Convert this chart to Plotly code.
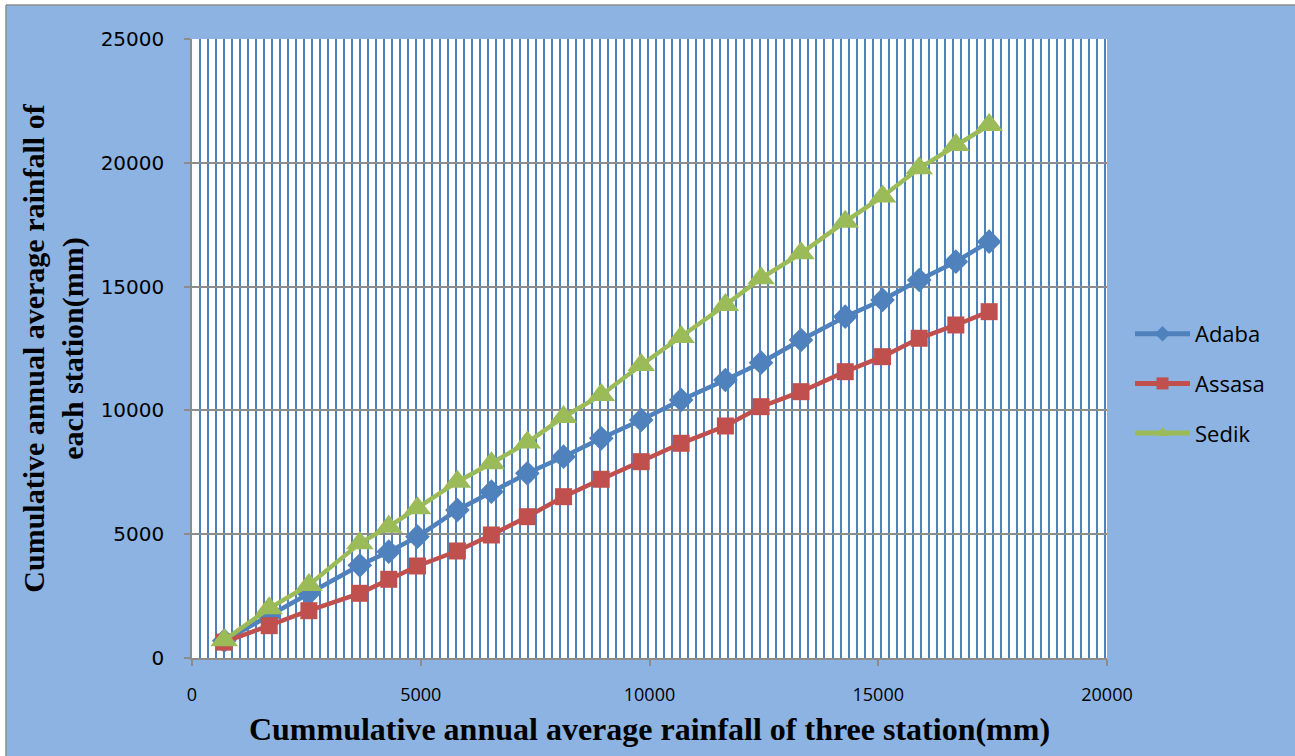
import plotly.graph_objects as go

# Cumulative average rainfall of the three stations (x axis, mm)
x_cum = [705, 1688, 2555, 3668, 4301, 4928, 5801, 6544, 7330, 8122, 8945,
         9819, 10692, 11659, 12439, 13312, 14279, 15094, 15895, 16696, 17424]

adaba = [700, 1700, 2613, 3744, 4293, 4899, 5978, 6717, 7460, 8130, 8874,
         9613, 10421, 11228, 11927, 12844, 13785, 14460, 15267, 16007, 16815]
assasa = [640, 1305, 1910, 2613, 3179, 3716, 4322, 4968, 5707, 6515, 7218,
          7929, 8672, 9370, 10150, 10756, 11564, 12170, 12913, 13450, 13987]
sedik = [720, 2007, 2948, 4633, 5303, 6046, 7121, 7864, 8704, 9734, 10623,
         11834, 12965, 14258, 15336, 16346, 17622, 18640, 19779, 20720, 21528]

series_names = ["Adaba", "Assasa", "Sedik"]
series_values = [adaba, assasa, sedik]
series_colors = ["#4F81BD", "#C0504D", "#9BBB59"]
series_symbols = ["diamond", "square", "triangle-up"]
series_sizes = [19, 17, 24]

x_title = "Cummulative annual average rainfall of three station(mm)"
y_title = "Cumulative annual average rainfall of<br>each station(mm)"

BG = "#8DB3E2"
W, H = 1295, 756
ML, MR, MT, MB = 192, 188, 39, 98
PW, PH = W - ML - MR, H - MT - MB

fig = go.Figure()
for name, vals, col, sym, sz in zip(series_names, series_values, series_colors,
                                    series_symbols, series_sizes):
    fig.add_trace(go.Scatter(
        x=x_cum, y=vals, name=name, mode="lines+markers", legendgroup=name,
        line=dict(color=col, width=4.5),
        marker=dict(symbol=sym, size=sz, color=col, line=dict(width=0)),
    ))

def px_x(p):
    return (p - ML) / PW

def px_y(p):
    return (H - MB - p) / PH

shapes = [
    dict(type="rect", xref="paper", yref="paper", x0=px_x(-2), x1=px_x(6),
         y0=px_y(H + 2), y1=px_y(-2), fillcolor="white", line=dict(width=0)),
    dict(type="rect", xref="paper", yref="paper", x0=px_x(-2), x1=px_x(W + 2),
         y0=px_y(5), y1=px_y(-2), fillcolor="white", line=dict(width=0)),
    dict(type="line", xref="paper", yref="paper", x0=px_x(6), x1=px_x(6),
         y0=px_y(H + 2), y1=px_y(5), line=dict(color="#8C8C8C", width=1.5)),
    dict(type="line", xref="paper", yref="paper", x0=px_x(6), x1=px_x(W + 2),
         y0=px_y(5), y1=px_y(5), line=dict(color="#8C8C8C", width=1.5)),
]

fig.update_layout(
    width=W, height=H,
    margin=dict(l=ML, r=MR, t=MT, b=MB, autoexpand=False),
    paper_bgcolor=BG, plot_bgcolor="white",
    shapes=shapes,
    showlegend=True,
    legend=dict(x=px_x(1130), xanchor="left", y=px_y(313), yanchor="top",
                font=dict(family="Open Sans", size=22, color="black"),
                bgcolor="rgba(0,0,0,0)", itemwidth=55, tracegroupgap=18,
                itemsizing="constant"),
    xaxis=dict(
        range=[0, 20000], dtick=5000, tick0=0, tickformat="d",
        showgrid=False,
        minor=dict(dtick=175, tick0=0, showgrid=True, gridcolor="#4F81BD",
                   gridwidth=2, ticks=""),
        showline=True, linecolor="#8C8C8C", linewidth=1.5,
        ticks="outside", ticklen=6, tickcolor="#8C8C8C", tickwidth=1.5,
        tickfont=dict(family="Open Sans", size=18, color="black"),
        ticklabelstandoff=14,
        zeroline=False,
        title=dict(text=x_title, standoff=12,
                   font=dict(family="Liberation Serif", size=32, color="black",
                             weight="bold")),
    ),
    yaxis=dict(
        range=[0, 25000], dtick=5000, tick0=0, tickformat="d",
        showgrid=True, gridcolor="#8C8C8C", gridwidth=1.5,
        showline=True, linecolor="#8C8C8C", linewidth=1.5,
        ticks="outside", ticklen=6, tickcolor="#8C8C8C", tickwidth=1.5,
        tickfont=dict(family="DejaVu Sans", size=20, color="black"),
        ticklabelstandoff=16,
        zeroline=False,
        title=dict(text=y_title, standoff=8,
                   font=dict(family="Liberation Serif", size=30, color="black",
                             weight="bold")),
    ),
)

fig.write_html("out.html", config={"displayModeBar": False},
               post_script="document.body.style.margin='0';")
